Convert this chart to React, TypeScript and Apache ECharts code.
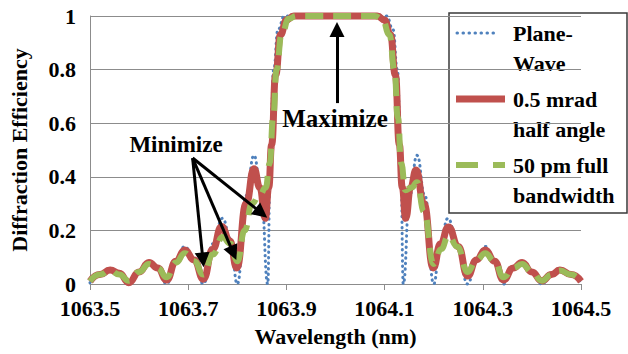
import React, { useEffect, useRef } from "react";
import * as echarts from "echarts";

const X0 = 1063.5;
const xTickLabels = ["1063.5", "1063.7", "1063.9", "1064.1", "1064.3", "1064.5"];

// Plane-wave (blue dotted)
const planeWL = [
  1063.5, 1063.52, 1063.541, 1063.56, 1063.579, 1063.6, 1063.62, 1063.638, 1063.656, 1063.675,
  1063.693, 1063.712, 1063.731, 1063.75, 1063.77, 1063.786, 1063.8, 1063.818, 1063.834, 1063.849,
  1063.862, 1063.867, 1063.874, 1063.883, 1063.896, 1064.104, 1064.117, 1064.126, 1064.133, 1064.138,
  1064.151, 1064.166, 1064.182, 1064.2, 1064.213, 1064.229, 1064.248, 1064.269, 1064.287, 1064.305,
  1064.324, 1064.342, 1064.362, 1064.38, 1064.4, 1064.42, 1064.44, 1064.457, 1064.48, 1064.5,
];
const planeVal = [
  0.005, 0.035, 0.056, 0.035, 0.0, 0.05, 0.085, 0.06, 0.0, 0.09,
  0.14, 0.09, 0.0, 0.15, 0.245, 0.17, 0.0, 0.33, 0.48, 0.33,
  0.0, 0.45, 0.8, 0.95, 1.0, 1.0, 0.95, 0.8, 0.45, 0.0,
  0.33, 0.48, 0.33, 0.0, 0.15, 0.245, 0.15, 0.0, 0.09, 0.14,
  0.09, 0.0, 0.06, 0.085, 0.05, 0.0, 0.035, 0.056, 0.035, 0.005,
];

// 0.5 mrad half angle (red solid)
const mradWL = [
  1063.5, 1063.52, 1063.541, 1063.56, 1063.579, 1063.6, 1063.62, 1063.638, 1063.656, 1063.675,
  1063.693, 1063.712, 1063.731, 1063.75, 1063.768, 1063.785, 1063.799, 1063.818, 1063.834, 1063.846,
  1063.857, 1063.864, 1063.87, 1063.878, 1063.888, 1063.9, 1063.915, 1064.0, 1064.085, 1064.1,
  1064.112, 1064.122, 1064.13, 1064.136, 1064.143, 1064.153, 1064.164, 1064.18, 1064.199, 1064.214,
  1064.23, 1064.25, 1064.269, 1064.287, 1064.305, 1064.324, 1064.342, 1064.362, 1064.38, 1064.4,
  1064.42, 1064.44, 1064.457, 1064.48, 1064.5,
];
const mradVal = [
  0.01, 0.035, 0.052, 0.04, 0.005, 0.045, 0.08, 0.06, 0.015, 0.085,
  0.127, 0.09, 0.018, 0.13, 0.215, 0.16, 0.06, 0.3, 0.43, 0.36,
  0.245, 0.36, 0.52, 0.78, 0.93, 0.985, 1.0, 1.0, 1.0, 0.985,
  0.93, 0.78, 0.52, 0.36, 0.245, 0.36, 0.425, 0.3, 0.06, 0.15,
  0.213, 0.14, 0.03, 0.09, 0.127, 0.085, 0.015, 0.06, 0.08, 0.045,
  0.012, 0.035, 0.052, 0.035, 0.01,
];

// 50 pm full bandwidth (green dashed)
const bwWL = [
  1063.5, 1063.52, 1063.541, 1063.56, 1063.579, 1063.6, 1063.62, 1063.638, 1063.656, 1063.675,
  1063.693, 1063.712, 1063.731, 1063.75, 1063.77, 1063.786, 1063.8, 1063.815, 1063.83, 1063.845,
  1063.858, 1063.866, 1063.873, 1063.88, 1063.89, 1063.905, 1063.92, 1064.08, 1064.095, 1064.11,
  1064.12, 1064.127, 1064.134, 1064.142, 1064.155, 1064.166, 1064.18, 1064.2, 1064.215, 1064.23,
  1064.248, 1064.269, 1064.287, 1064.305, 1064.324, 1064.342, 1064.362, 1064.38, 1064.4, 1064.42,
  1064.44, 1064.457, 1064.48, 1064.5,
];
const bwVal = [
  0.01, 0.035, 0.05, 0.035, 0.012, 0.045, 0.075, 0.06, 0.025, 0.08,
  0.115, 0.085, 0.035, 0.11, 0.175, 0.15, 0.085, 0.2, 0.3, 0.33,
  0.36, 0.45, 0.62, 0.8, 0.93, 0.99, 1.0, 1.0, 0.99, 0.93,
  0.8, 0.62, 0.45, 0.35, 0.36, 0.38, 0.27, 0.075, 0.13, 0.18,
  0.14, 0.045, 0.09, 0.115, 0.085, 0.025, 0.06, 0.075, 0.045, 0.012,
  0.035, 0.05, 0.035, 0.01,
];

// annotation arrows: [fromWL, fromVal, toWL, toVal]
const maximizeArrow = [1064.003, 0.675, 1064.003, 0.95];
const minimizeArrows = [
  [1063.709, 0.47, 1063.73, 0.09],
  [1063.709, 0.47, 1063.792, 0.115],
  [1063.709, 0.47, 1063.849, 0.265],
];

const FONT = "Liberation Serif";

const toPairs = (wl: number[], v: number[]) => wl.map((w, i) => [w - X0, v[i]]);

const txt = (size: number) => ({
  fontFamily: FONT,
  fontWeight: "bold",
  fontSize: size,
  color: "#000",
});

export default function App() {
  const ref = useRef<HTMLDivElement>(null);
  useEffect(() => {
    document.body.style.margin = "0";
    if (!ref.current) return;
    const chart = echarts.init(ref.current, undefined, { renderer: "svg" });
    const arrowData = [maximizeArrow, ...minimizeArrows].map((a) => [
      { coord: [a[0] - X0, a[1]] },
      { coord: [a[2] - X0, a[3]] },
    ]);
    const gText = (text: string, x: number, y: number, size: number, align: string) => ({
      type: "text",
      x,
      y,
      style: {
        text,
        fontFamily: FONT,
        fontWeight: "bold",
        fontSize: size,
        fill: "#000",
        align,
        verticalAlign: "middle",
      },
    });
    chart.setOption({
      animation: false,
      textStyle: { fontFamily: FONT },
      grid: { left: 88, right: 47, top: 16, bottom: 70, containLabel: false },
      xAxis: {
        type: "value",
        min: 0,
        max: 1,
        interval: 0.2,
        name: "Wavelength (nm)",
        nameLocation: "middle",
        nameGap: 41,
        nameTextStyle: txt(22),
        axisLine: { show: true, lineStyle: { color: "#8c8c8c", width: 1 } },
        axisTick: { show: true, length: 6, lineStyle: { color: "#8c8c8c" } },
        splitLine: { show: false },
        axisLabel: {
          margin: 13,
          ...txt(22),
          formatter: (v: number) => xTickLabels[Math.round(v / 0.2)] ?? "",
        },
      },
      yAxis: {
        type: "value",
        min: 0,
        max: 1,
        interval: 0.2,
        name: "Diffraction Efficiency",
        nameLocation: "middle",
        nameGap: 60,
        nameRotate: 90,
        nameTextStyle: txt(22),
        axisLine: { show: true, lineStyle: { color: "#8c8c8c", width: 1 } },
        axisTick: { show: false },
        splitLine: { show: true, lineStyle: { color: "#8c8c8c", width: 1 } },
        axisLabel: { margin: 14, ...txt(22) },
      },
      series: [
        {
          name: "Plane-Wave",
          type: "line",
          data: toPairs(planeWL, planeVal),
          showSymbol: false,
          smooth: true,
          smoothMonotone: "x",
          clip: false,
          lineStyle: { color: "#4F81BD", width: 3, type: [0.5, 5], cap: "round" },
          z: 2,
        },
        {
          name: "0.5 mrad half angle",
          type: "line",
          data: toPairs(mradWL, mradVal),
          showSymbol: false,
          smooth: true,
          smoothMonotone: "x",
          clip: false,
          lineStyle: { color: "#C0504D", width: 7, type: "solid" },
          z: 3,
        },
        {
          name: "50 pm full bandwidth",
          type: "line",
          data: toPairs(bwWL, bwVal),
          showSymbol: false,
          smooth: true,
          smoothMonotone: "x",
          clip: false,
          lineStyle: { color: "#9BBB59", width: 6, type: [18, 10] },
          z: 4,
        },
        {
          name: "arrows",
          type: "line",
          data: [],
          z: 5,
          markLine: {
            silent: true,
            animation: false,
            symbol: ["none", "triangle"],
            symbolSize: 15,
            label: { show: false },
            lineStyle: { color: "#000", width: 3, type: "solid" },
            emphasis: { disabled: true },
            data: arrowData,
          },
        },
      ],
      graphic: [
        { ...gText("Maximize", 335, 118, 25, "center"), z: 10 },
        { ...gText("Minimize", 176, 144, 23, "center"), z: 10 },
        {
          type: "group",
          z: 20,
          children: [
            {
              type: "rect",
              shape: { x: 449, y: 13, width: 178, height: 200 },
              style: { fill: "#fff", stroke: "#3a3a3a", lineWidth: 1.5 },
            },
            {
              type: "line",
              shape: { x1: 457, y1: 33, x2: 499, y2: 33 },
              style: { stroke: "#4F81BD", lineWidth: 3, lineDash: [0.5, 5.5], lineCap: "round" },
            },
            {
              type: "line",
              shape: { x1: 456, y1: 99, x2: 505, y2: 99 },
              style: { stroke: "#C0504D", lineWidth: 7 },
            },
            {
              type: "line",
              shape: { x1: 456, y1: 165, x2: 505, y2: 165 },
              style: { stroke: "#9BBB59", lineWidth: 6, lineDash: [22, 15] },
            },
            gText("Plane-", 513, 33, 22, "left"),
            gText("Wave", 513, 63, 22, "left"),
            gText("0.5 mrad", 513, 99, 22, "left"),
            gText("half angle", 513, 129, 22, "left"),
            gText("50 pm full", 513, 165, 22, "left"),
            gText("bandwidth", 513, 195, 22, "left"),
          ],
        },
      ],
    });
    return () => chart.dispose();
  }, []);
  return <div ref={ref} style={{ width: 628, height: 354 }} />;
}
